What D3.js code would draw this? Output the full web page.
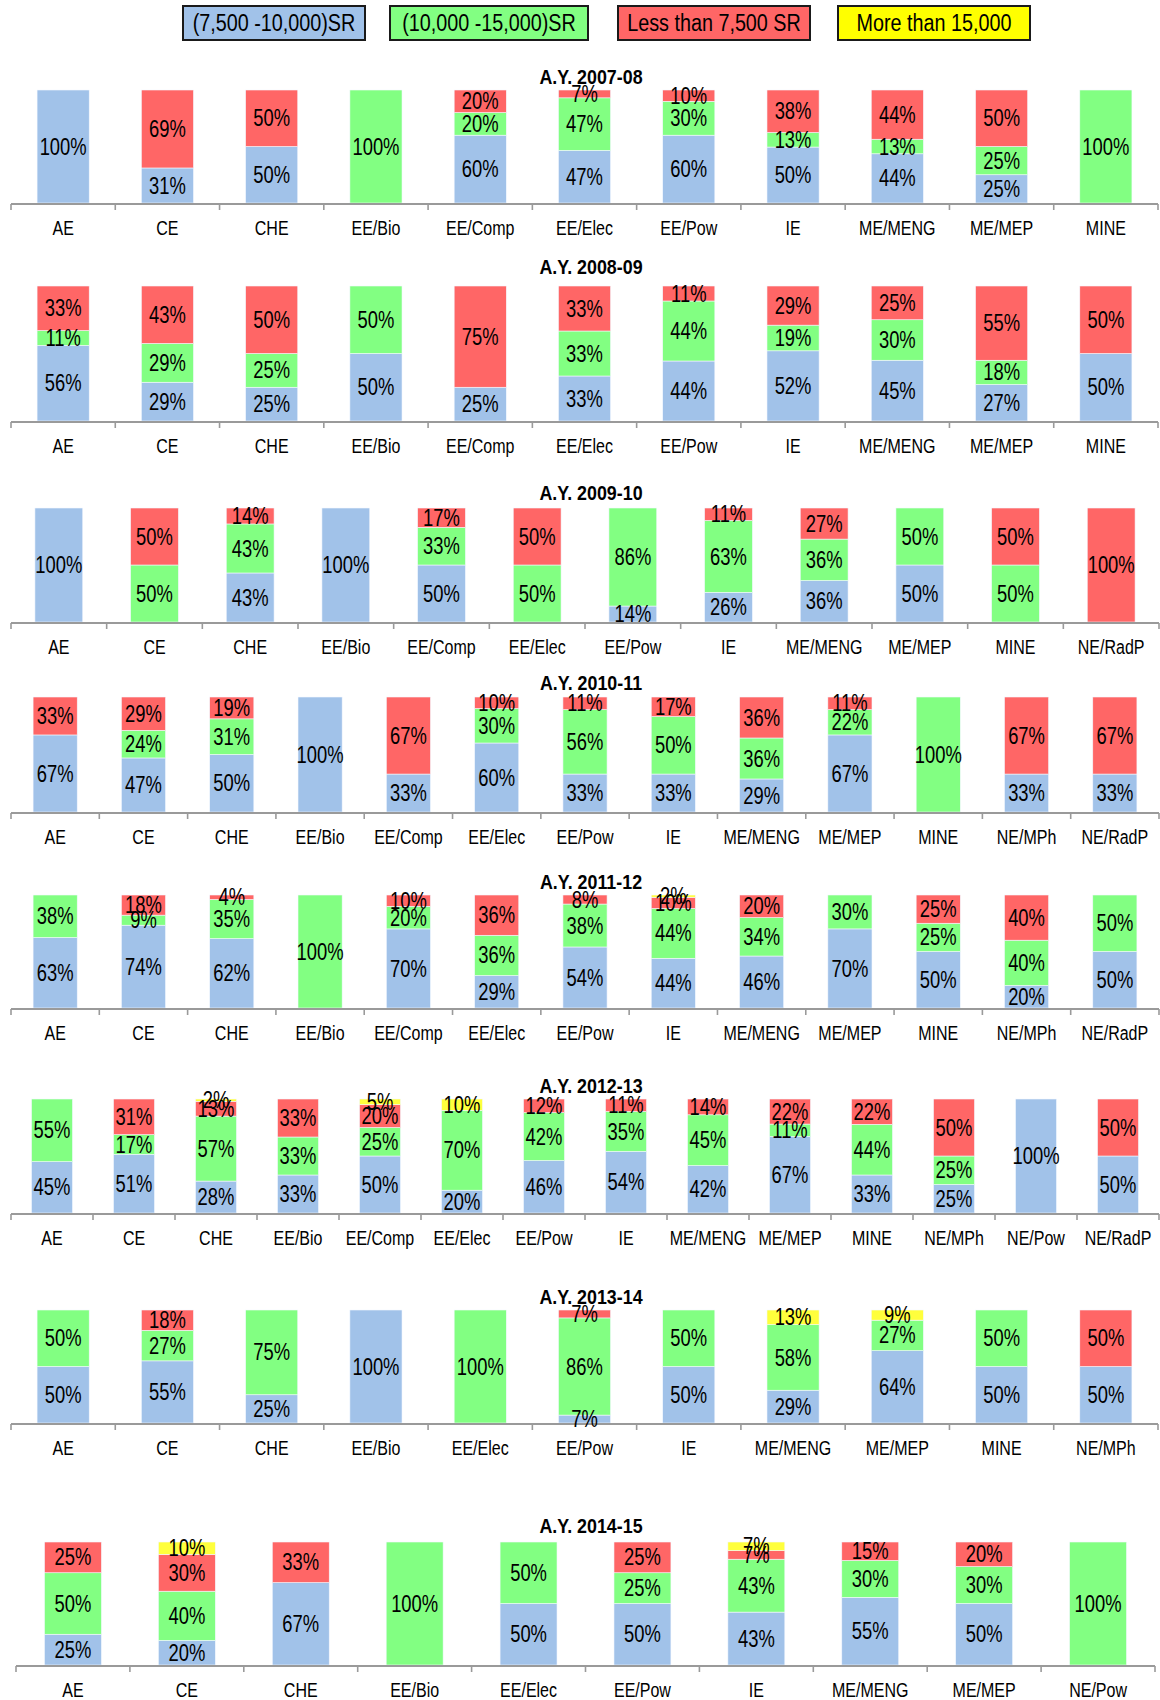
<!DOCTYPE html>
<html>
<head>
<meta charset="utf-8">
<script src="https://cdn.jsdelivr.net/npm/d3@7"></script>
<style>
  body { margin: 0; background: #fff; }
  text { font-family: "Liberation Sans", Arial, sans-serif; fill: #000; }
</style>
</head>
<body>
<svg id="chart" width="1160" height="1700"></svg>
<script>
// salary bands (stack order bottom -> top)
var bandNames = ["(7,500 -10,000)SR", "(10,000 -15,000)SR", "Less than 7,500 SR", "More than 15,000"];
var bandKeys = ["mid", "high", "low", "top"];
var bandColors = ["#a1c2e9", "#82ff82", "#ff6666", "#ffff3c"];
var legendColors = ["#a1c2e9", "#82ff82", "#ff6666", "#ffff00"];

// A.Y. 2007-08
var cats0708 = ["AE", "CE", "CHE", "EE/Bio", "EE/Comp", "EE/Elec", "EE/Pow", "IE", "ME/MENG", "ME/MEP", "MINE"];
var mid0708  = [100, 31, 50, 0, 60, 47, 60, 50, 44, 25, 0];
var high0708 = [0, 0, 0, 100, 20, 47, 30, 13, 13, 25, 100];
var low0708  = [0, 69, 50, 0, 20, 7, 10, 38, 44, 50, 0];
var top0708  = [0, 0, 0, 0, 0, 0, 0, 0, 0, 0, 0];

// A.Y. 2008-09
var cats0809 = ["AE", "CE", "CHE", "EE/Bio", "EE/Comp", "EE/Elec", "EE/Pow", "IE", "ME/MENG", "ME/MEP", "MINE"];
var mid0809  = [56, 29, 25, 50, 25, 33, 44, 52, 45, 27, 50];
var high0809 = [11, 29, 25, 50, 0, 33, 44, 19, 30, 18, 0];
var low0809  = [33, 43, 50, 0, 75, 33, 11, 29, 25, 55, 50];
var top0809  = [0, 0, 0, 0, 0, 0, 0, 0, 0, 0, 0];

// A.Y. 2009-10
var cats0910 = ["AE", "CE", "CHE", "EE/Bio", "EE/Comp", "EE/Elec", "EE/Pow", "IE", "ME/MENG", "ME/MEP", "MINE", "NE/RadP"];
var mid0910  = [100, 0, 43, 100, 50, 0, 14, 26, 36, 50, 0, 0];
var high0910 = [0, 50, 43, 0, 33, 50, 86, 63, 36, 50, 50, 0];
var low0910  = [0, 50, 14, 0, 17, 50, 0, 11, 27, 0, 50, 100];
var top0910  = [0, 0, 0, 0, 0, 0, 0, 0, 0, 0, 0, 0];

// A.Y. 2010-11
var cats1011 = ["AE", "CE", "CHE", "EE/Bio", "EE/Comp", "EE/Elec", "EE/Pow", "IE", "ME/MENG", "ME/MEP", "MINE", "NE/MPh", "NE/RadP"];
var mid1011  = [67, 47, 50, 100, 33, 60, 33, 33, 29, 67, 0, 33, 33];
var high1011 = [0, 24, 31, 0, 0, 30, 56, 50, 36, 22, 100, 0, 0];
var low1011  = [33, 29, 19, 0, 67, 10, 11, 17, 36, 11, 0, 67, 67];
var top1011  = [0, 0, 0, 0, 0, 0, 0, 0, 0, 0, 0, 0, 0];

// A.Y. 2011-12
var cats1112 = ["AE", "CE", "CHE", "EE/Bio", "EE/Comp", "EE/Elec", "EE/Pow", "IE", "ME/MENG", "ME/MEP", "MINE", "NE/MPh", "NE/RadP"];
var mid1112  = [63, 74, 62, 0, 70, 29, 54, 44, 46, 70, 50, 20, 50];
var high1112 = [38, 9, 35, 100, 20, 36, 38, 44, 34, 30, 25, 40, 50];
var low1112  = [0, 18, 4, 0, 10, 36, 8, 10, 20, 0, 25, 40, 0];
var top1112  = [0, 0, 0, 0, 0, 0, 0, 2, 0, 0, 0, 0, 0];

// A.Y. 2012-13
var cats1213 = ["AE", "CE", "CHE", "EE/Bio", "EE/Comp", "EE/Elec", "EE/Pow", "IE", "ME/MENG", "ME/MEP", "MINE", "NE/MPh", "NE/Pow", "NE/RadP"];
var mid1213  = [45, 51, 28, 33, 50, 20, 46, 54, 42, 67, 33, 25, 100, 50];
var high1213 = [55, 17, 57, 33, 25, 70, 42, 35, 45, 11, 44, 25, 0, 0];
var low1213  = [0, 31, 13, 33, 20, 0, 12, 11, 14, 22, 22, 50, 0, 50];
var top1213  = [0, 0, 2, 0, 5, 10, 0, 0, 0, 0, 0, 0, 0, 0];

// A.Y. 2013-14
var cats1314 = ["AE", "CE", "CHE", "EE/Bio", "EE/Elec", "EE/Pow", "IE", "ME/MENG", "ME/MEP", "MINE", "NE/MPh"];
var mid1314  = [50, 55, 25, 100, 0, 7, 50, 29, 64, 50, 50];
var high1314 = [50, 27, 75, 0, 100, 86, 50, 58, 27, 50, 0];
var low1314  = [0, 18, 0, 0, 0, 7, 0, 0, 0, 0, 50];
var top1314  = [0, 0, 0, 0, 0, 0, 0, 13, 9, 0, 0];

// A.Y. 2014-15
var cats1415 = ["AE", "CE", "CHE", "EE/Bio", "EE/Elec", "EE/Pow", "IE", "ME/MENG", "ME/MEP", "NE/Pow"];
var mid1415  = [25, 20, 67, 0, 50, 50, 43, 55, 50, 0];
var high1415 = [50, 40, 0, 100, 50, 25, 43, 30, 30, 100];
var low1415  = [25, 30, 33, 0, 0, 25, 7, 15, 20, 0];
var top1415  = [0, 10, 0, 0, 0, 0, 7, 0, 0, 0];

var panels = [
  {title: "A.Y. 2007-08", cats: cats0708, vals: [mid0708, high0708, low0708, top0708]},
  {title: "A.Y. 2008-09", cats: cats0809, vals: [mid0809, high0809, low0809, top0809]},
  {title: "A.Y. 2009-10", cats: cats0910, vals: [mid0910, high0910, low0910, top0910]},
  {title: "A.Y. 2010-11", cats: cats1011, vals: [mid1011, high1011, low1011, top1011]},
  {title: "A.Y. 2011-12", cats: cats1112, vals: [mid1112, high1112, low1112, top1112]},
  {title: "A.Y. 2012-13", cats: cats1213, vals: [mid1213, high1213, low1213, top1213]},
  {title: "A.Y. 2013-14", cats: cats1314, vals: [mid1314, high1314, low1314, top1314]},
  {title: "A.Y. 2014-15", cats: cats1415, vals: [mid1415, high1415, low1415, top1415]}
];

// layout of each panel: title y, bar top, axis y, axis x range
var layout = [
  {ty: 77,   top: 90,   base: 203,  x0: 11, x1: 1158},
  {ty: 267,  top: 286,  base: 421,  x0: 11, x1: 1158},
  {ty: 493,  top: 508,  base: 622,  x0: 11, x1: 1159},
  {ty: 683,  top: 697,  base: 812,  x0: 11, x1: 1159},
  {ty: 882,  top: 895,  base: 1008, x0: 11, x1: 1159},
  {ty: 1086, top: 1099, base: 1213, x0: 11, x1: 1159},
  {ty: 1297, top: 1310, base: 1423, x0: 11, x1: 1158},
  {ty: 1526, top: 1542, base: 1665, x0: 16, x1: 1155}
];

var svg = d3.select("#chart");

// the picture's text is horizontally condensed, so squeeze it
function label(g, x, y, txt, size, sx, weight) {
  return g.append("text")
    .attr("transform", "translate(" + x + "," + y + ") scale(" + sx + ",1)")
    .attr("text-anchor", "middle")
    .attr("dy", "0.35em")
    .style("font-size", size + "px")
    .style("font-weight", weight || "normal")
    .text(txt);
}

// legend
var legendBoxes = [[183, 365], [390, 588], [618, 810], [838, 1030]];
var legend = svg.append("g").attr("class", "legend");
bandNames.forEach(function(name, i) {
  var b = legendBoxes[i];
  legend.append("rect")
    .attr("x", b[0]).attr("y", 6)
    .attr("width", b[1] - b[0]).attr("height", 34)
    .attr("fill", legendColors[i])
    .attr("stroke", "#1a1a1a").attr("stroke-width", 2);
  label(legend, (b[0] + b[1]) / 2, 23, name, 23, 0.86);
});

var stack = d3.stack().keys(bandKeys).offset(d3.stackOffsetExpand);

panels.forEach(function(p, pi) {
  var L = layout[pi];
  var g = svg.append("g").attr("class", "panel");

  var rows = p.cats.map(function(c, i) {
    var r = {cat: c};
    bandKeys.forEach(function(k, j) { r[k] = p.vals[j][i]; });
    return r;
  });

  var x = d3.scaleBand().domain(p.cats).range([L.x0, L.x1]);
  var y = d3.scaleLinear().domain([0, 1]).range([L.base, L.top]);
  var bw = x.bandwidth() * 0.5;

  label(g, 591, L.ty, p.title, 21, 0.85, "bold");

  var stacked = stack(rows);

  var layers = g.selectAll(".layer")
    .data(stacked)
    .enter().append("g")
      .attr("class", "layer")
      .attr("fill", function(d, i) { return bandColors[i]; });

  layers.selectAll("rect")
    .data(function(d) { return d; })
    .enter().append("rect")
      .attr("x", function(d) { return x(d.data.cat) + (x.bandwidth() - bw) / 2; })
      .attr("width", bw)
      .attr("y", function(d) { return y(d[1]); })
      .attr("height", function(d) { return y(d[0]) - y(d[1]); })
      .attr("stroke", "#f4f8ff").attr("stroke-width", 0.6);

  // axis line + boundary ticks
  g.append("line")
    .attr("x1", L.x0).attr("x2", L.x1)
    .attr("y1", L.base + 1).attr("y2", L.base + 1)
    .attr("stroke", "#9a9a9a").attr("stroke-width", 2.2);
  var edges = p.cats.map(function(c) { return x(c); }).concat([L.x1]);
  g.selectAll(".tick-edge")
    .data(edges)
    .enter().append("line")
      .attr("class", "tick-edge")
      .attr("x1", function(d) { return d; }).attr("x2", function(d) { return d; })
      .attr("y1", L.base + 1).attr("y2", L.base + 7)
      .attr("stroke", "#9a9a9a").attr("stroke-width", 1.6);

  // category labels
  var ax = g.append("g")
    .attr("transform", "translate(0," + (L.base + 25) + ")")
    .call(d3.axisBottom(x).tickSize(0).tickPadding(0));
  ax.select(".domain").remove();
  ax.selectAll("text")
    .attr("y", 0).attr("dy", "0.35em")
    .attr("transform", "scale(0.8,1)")
    .style("font-size", "20px")
    .style("font-family", '"Liberation Sans", Arial, sans-serif')
    .attr("fill", "#000");

  // value labels, centred in each segment
  stacked.forEach(function(layer, li) {
    layer.forEach(function(d, ci) {
      var v = p.vals[li][ci];
      if (!v) return;
      var cx = x(d.data.cat) + x.bandwidth() / 2;
      var cy = (y(d[0]) + y(d[1])) / 2;
      label(g, cx, cy, v + "%", 23, 0.8);
    });
  });
});
</script>
</body>
</html>
